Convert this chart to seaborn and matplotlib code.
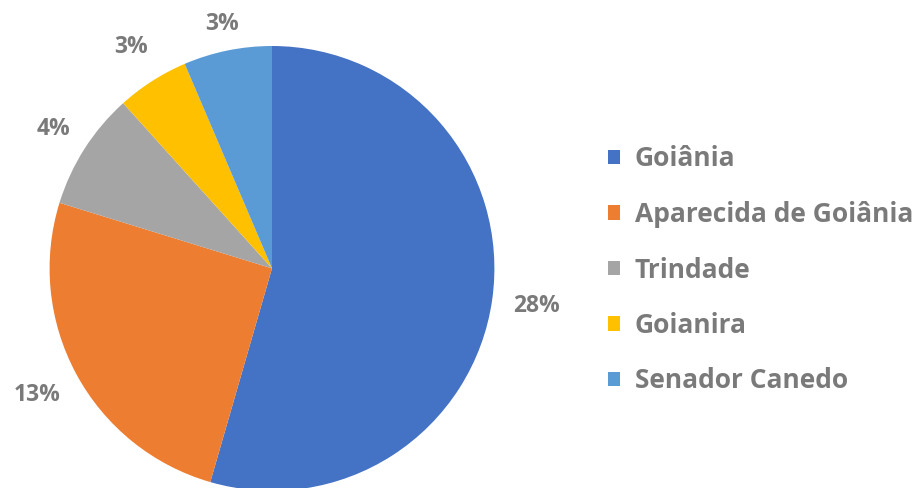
import matplotlib
matplotlib.use("Agg")
import matplotlib.pyplot as plt
import seaborn as sns

# Data
cities = ["Goiânia", "Aparecida de Goiânia", "Trindade", "Goianira", "Senador Canedo"]
values = [28.0, 13.0, 4.4, 2.7, 3.3]   # percentages (labels shown rounded)
colors = ["#4472C4", "#ED7D31", "#A5A5A5", "#FFC000", "#5B9BD5"]

sns.set_theme(style="white")
plt.rcParams["font.family"] = ["Open Sans", "DejaVu Sans"]

W, H = 919, 488
fig = plt.figure(figsize=(W / 100, H / 100), dpi=100)
cx, cy, R = 272, 268.4, 222.4
ax = fig.add_axes([(cx - R) / W, (H - cy - R) / H, 2 * R / W, 2 * R / H])

palette = sns.color_palette(colors)
total = sum(values)
wedges, texts, autotexts = ax.pie(
    values, colors=palette, startangle=90, counterclock=False, radius=1,
    autopct=lambda p: f"{round(p * total / 100):.0f}%", pctdistance=1.2,
    wedgeprops=dict(linewidth=0),
    textprops=dict(color="#7a7a7a", fontsize=16.5, fontweight="bold"))
label_r = [1.20, 1.20, 1.167, 1.18, 1.12]
for t, r in zip(autotexts, label_r):
    x, y = t.get_position()
    s = r / 1.2
    t.set_position((x * s, y * s))
ax.set_xlim(-1, 1)
ax.set_ylim(-1, 1)
ax.axis("off")

fig.legend(wedges, cities, loc="center left",
           bbox_to_anchor=(608 / W, (H - 270) / H),
           frameon=False, borderaxespad=0, borderpad=0,
           handlelength=0.46, handleheight=0.46, handletextpad=0.55,
           labelspacing=1.08,
           prop=dict(family=["Open Sans", "DejaVu Sans"], size=19, weight="bold"),
           labelcolor="#7a7a7a")

fig.savefig("out.png", dpi=100)
